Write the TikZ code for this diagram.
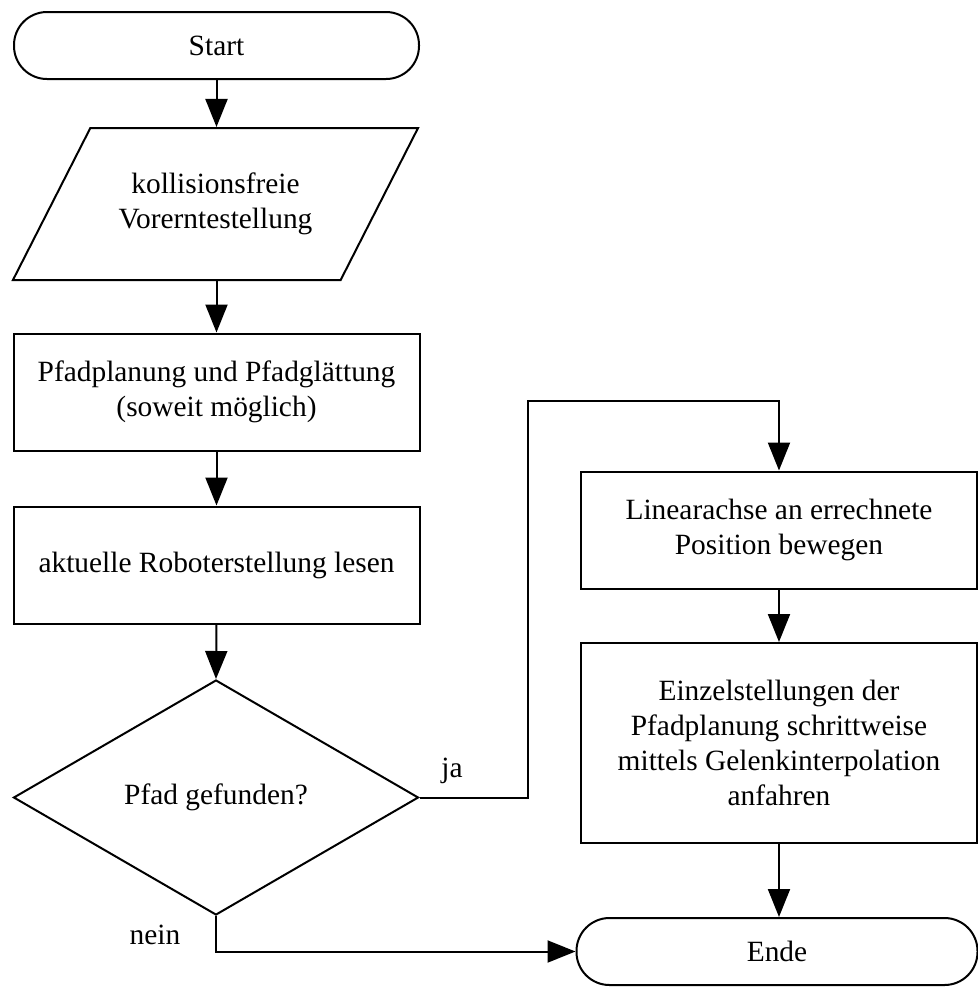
\documentclass[tikz,border=0pt]{standalone}
\usepackage{fontspec}
\setmainfont{Liberation Serif}
\usepackage{tikz}
\usetikzlibrary{positioning,arrows.meta,shapes.geometric,calc}

\begin{document}
\begin{tikzpicture}[
  x=0.5pt, y=-0.5pt,
  every node/.style={font=\fontsize{14.7}{17.5}\selectfont},
  terminal/.style={
    rectangle, rounded corners=16.5pt,
    draw=black, line width=1pt,
    minimum height=33.5pt, align=center, inner sep=0pt
  },
  procbox/.style={
    rectangle, draw=black, line width=1pt,
    minimum width=203pt, minimum height=58.5pt, align=center, inner sep=0pt
  },
  iobox/.style={
    trapezium, trapezium stretches=true,
    trapezium left angle=46, trapezium right angle=134,
    draw=black, line width=1pt,
    minimum width=203pt, minimum height=76pt, align=center, inner sep=0pt
  },
  decision/.style={
    diamond, draw=black, line width=1pt,
    minimum width=202.5pt, minimum height=117.5pt, align=center, inner sep=0pt
  },
  arr/.style={-{Triangle[length=14pt,width=11pt]}, line width=1pt, draw=black}
]
\useasboundingbox (0,0) rectangle (978,993);

% --- main column (left) ---
\node[terminal, minimum width=202.5pt] (start) at (216.5,45.5) {Start};
\node[iobox] (pose) at (215.5,204) {kollisionsfreie\\Vorerntestellung};
\node[procbox] (plan) at (216.5,392) {Pfadplanung und Pfadglättung\\(soweit möglich)};
\node[procbox] (read) at (216.5,565) {aktuelle Roboterstellung lesen};
\node[decision] (found) at (216,797.5) {Pfad gefunden?};

\draw[arr] (start.south) -- (pose.north -| start.south);
\draw[arr] (pose.south -| start.south) -- (plan.north);
\draw[arr] (plan.south) -- (read.north);
\draw[arr] (read.south) -- (found.north);

% --- right column ---
\node[procbox, minimum width=198pt] (axis) at (779,530) {Linearachse an errechnete\\Position bewegen};
\node[procbox, minimum width=198pt, minimum height=100pt] (joints) at (779,743) {Einzelstellungen der\\Pfadplanung schrittweise\\mittels Gelenkinterpolation\\anfahren};
\node[terminal, minimum width=200.5pt] (ende) at (777,951.5) {Ende};

\coordinate (jaup) at (528,401);
\draw[arr] (found.east) -| (jaup) -| (axis.north);
\draw[arr] (axis.south) -- (joints.north);
\draw[arr] (joints.south) -- (ende.north -| joints.south);
\draw[arr] (found.south) |- (ende.west);

% branch labels
\node (ja) at (452,771) {ja};
\node (nein) at (155,935) {nein};

\end{tikzpicture}
\end{document}
